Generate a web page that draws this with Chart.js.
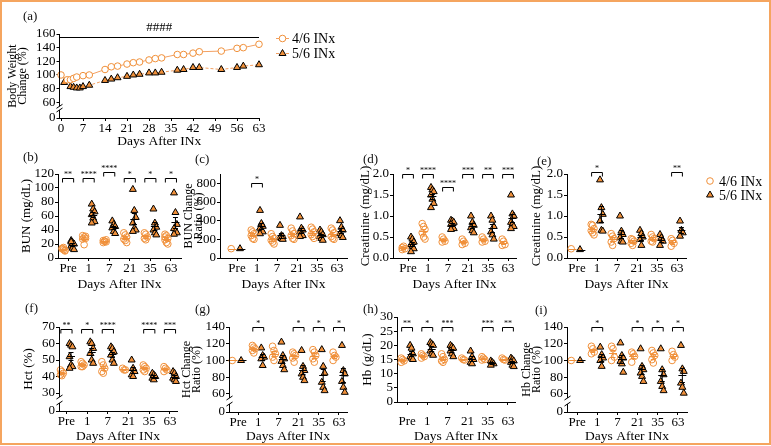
<!DOCTYPE html>
<html>
<head>
<meta charset="utf-8">
<script src="https://cdn.jsdelivr.net/npm/chart.js@4.4.0/dist/chart.umd.min.js"></script>
<style>
body { margin: 0; background: #fff; width: 771px; height: 446px; position: relative; overflow: hidden; font-family: 'Liberation Serif', serif; }
#frame { position: absolute; left: 0; top: 0; width: 771px; height: 445px; box-sizing: border-box; border: 2px solid #f5a55f; }
.lbl { position: absolute; font-size: 13px; line-height: 16px; color: #111; }
canvas { position: absolute; }
</style>
</head>
<body>
<div id="frame"></div>
<script>
// ---- data ----
const groups = ['4/6 INx', '5/6 INx'];
const cats = ['Pre', '1', '7', '21', '35', '63'];

// (a) body weight change (%)
const bwDays46 = [0, 2, 3, 4, 5, 7, 9, 14, 16, 18, 21, 23, 25, 28, 30, 32, 37, 39, 42, 44, 51, 56, 58, 63];
const bw46 = [100, 93, 93, 95, 97, 99, 100, 108, 112, 113, 116, 118, 119, 122, 124, 125, 130, 130, 132, 134, 135, 139, 140, 145];
const bwDays56 = [1, 3, 4, 5, 6, 7, 9, 14, 16, 18, 21, 23, 25, 28, 30, 32, 37, 39, 42, 44, 51, 56, 58, 63];
const bw56 = [89, 83, 82, 81, 81, 83, 85, 92, 94, 96, 98, 100, 101, 103, 103, 104, 107, 108, 111, 111, 108, 111, 113, 115];
const bwDayTicks = [0, 7, 14, 21, 28, 35, 42, 49, 56, 63];
const bwTicks = [0, 60, 80, 100, 120, 140, 160];

// (b) BUN
const bun46 = [[14, 12, 10, 13, 15, 11], [32, 30, 28, 27, 19, 31], [25, 24, 23, 22, 24, 26], [36, 33, 30, 27, 25, 22], [36, 34, 30, 28, 26], [34, 32, 28, 26, 22, 20, 30]];
const bun56 = [[25, 22, 20, 17, 14, 12, 23], [77, 70, 66, 62, 57, 52, 50], [53, 48, 45, 43, 38, 35], [98, 68, 58, 50, 42, 40, 38], [70, 50, 44, 40, 36, 33], [93, 65, 48, 42, 38, 36, 34]];
const bunStars = ['**', '****', '****', '*', '*', '*'];
const bunLevels = [114, 114, 123, 114, 114, 114];
const bunTicks = [0, 20, 40, 60, 80, 100, 120];

// (c) BUN change ratio
const bunR46 = [[100], [300, 280, 260, 240, 210, 200], [260, 230, 210, 190, 170, 150], [320, 290, 260, 240, 210, 200], [330, 310, 280, 250, 230, 210], [320, 300, 270, 230, 210, 200]];
const bunR56 = [[100], [510, 370, 340, 320, 300, 280, 260], [350, 240, 230, 220, 210, 200], [440, 320, 300, 280, 260, 240, 230], [300, 280, 250, 230, 210, 190], [400, 330, 300, 260, 240, 220]];
const bunRStars = ['', '*', '', '', '', ''];
const bunRLevels = [null, 800, null, null, null, null];
const bunRTicks = [0, 200, 400, 600, 800];

// (d) creatinine
const cre46 = [[0.25, 0.28, 0.22, 0.2], [0.82, 0.75, 0.68, 0.6, 0.5, 0.45], [0.5, 0.45, 0.4, 0.38], [0.45, 0.4, 0.35, 0.32], [0.5, 0.45, 0.4, 0.38], [0.45, 0.4, 0.32, 0.3]];
const cre56 = [[0.5, 0.45, 0.38, 0.32, 0.28, 0.22, 0.15], [1.68, 1.62, 1.58, 1.5, 1.4, 1.3, 1.2], [0.9, 0.88, 0.85, 0.8, 0.75, 0.7, 0.68], [1.0, 0.85, 0.78, 0.72, 0.65, 0.6], [1.0, 0.9, 0.75, 0.62, 0.55, 0.45], [1.5, 1.05, 1.0, 0.85, 0.8, 0.75, 0.7]];
const creStars = ['*', '****', '****', '***', '**', '***'];
const creLevels = [2, 2, 1.7, 2, 2, 2];
const creTicks = [0, 0.5, 1, 1.5, 2];

// (e) creatinine, second set
const creB46 = [[0.22], [0.8, 0.78, 0.7, 0.65, 0.6, 0.55], [0.58, 0.52, 0.46, 0.38, 0.3], [0.46, 0.44, 0.4, 0.35, 0.3], [0.56, 0.5, 0.46, 0.4, 0.38], [0.46, 0.42, 0.35, 0.28]];
const creB56 = [[0.2], [1.86, 1.2, 1.04, 0.88, 0.66, 0.64], [1.0, 0.64, 0.56, 0.48, 0.4, 0.38], [0.66, 0.58, 0.5, 0.44, 0.3], [0.56, 0.48, 0.4, 0.3], [0.88, 0.66, 0.6, 0.52]];
const creBStars = ['', '*', '', '', '', '**'];
const creBLevels = [null, 2.05, null, null, null, 2.05];

// (f) Hct
const hct46 = [[44, 43, 42, 41, 40.5], [49, 48, 47, 46, 46], [49, 47, 45, 43, 42], [45, 44, 44], [47, 46, 45, 44, 43], [46, 45, 44, 43]];
const hct56 = [[60, 59, 58, 52, 47, 46, 45], [61, 60, 57, 54, 50, 48], [58, 57, 55, 53, 50, 48], [50, 45, 43, 41, 40], [42, 41, 40, 39, 38], [43, 42, 40, 39, 38, 37]];
const hctStars = ['**', '*', '****', '', '****', '***'];
const hctLevels = [69, 69, 69, null, 69, 69];
const hctTicks = [0, 30, 40, 50, 60, 70];

// (g) Hct change ratio
const hctR46 = [[100], [118, 116, 114, 112, 109], [117, 112, 108, 104, 100], [110, 108, 106, 103, 98], [113, 110, 106, 102, 98], [110, 106, 104, 100]];
const hctR56 = [[100], [115, 106, 104, 102, 94], [122, 106, 102, 99, 94, 89], [112, 93, 88, 84, 80, 76], [113, 93, 85, 74, 68, 64], [118, 88, 84, 75, 68, 62]];
const hctRStars = ['', '*', '', '*', '*', '*'];
const hctRLevels = [null, 140, null, 140, 140, 140];
const ratioTicks = [0, 60, 80, 100, 120, 140];

// (h) Hb
const hb46 = [[15.5, 15, 14.5, 14], [17, 16.5, 16, 15.5], [17, 16, 15, 14.5, 14], [15.5, 15, 14.8], [16, 15.5, 15, 14.8], [15.5, 15, 14.8]];
const hb56 = [[20, 19, 17, 16, 15.5, 15], [21, 20.5, 20, 18, 17, 16.5], [20, 19.5, 19, 18, 17, 16], [18, 16, 15, 14, 13.5], [14.5, 14, 13.5, 13], [15.5, 15, 14.5, 14, 13, 12.5]];
const hbStars = ['**', '*', '***', '', '***', '**'];
const hbLevels = [26.5, 26.5, 26.5, null, 26.5, 26.5];
const hbTicks = [0, 5, 10, 15, 20, 25, 30];

// (i) Hb change ratio
const hbR46 = [[100], [117, 114, 110, 108], [117, 114, 104, 100], [110, 108, 105, 98], [112, 109, 106, 101, 97], [111, 107, 104, 100]];
const hbR56 = [[100], [116, 107, 103, 100, 93], [121, 106, 103, 99, 96, 86], [114, 93, 89, 85, 81, 75], [114, 89, 83, 75, 69, 64], [118, 90, 87, 73, 68, 61]];
const hbRStars = ['', '*', '', '*', '*', '*'];
const hbRLevels = [null, 140, null, 140, 140, 140];

// ---- styling ----
const INK = '#000';
const ORANGE = '#f0903a';
const LINE_ORANGE = '#f3a062';
const SERIF = "'Liberation Serif', 'Times New Roman', serif";
Chart.defaults.font.family = SERIF;
Chart.defaults.color = INK;

const GROUP_OFFSET = [-0.22, 0.22];
const TWO_LINE_SIZE = 12;
const TWO_LINE_LH = 0.9;

function jitter(j) {
    return ((j % 3) - 1) * 0.07;
}

function groupPoints(rows, offset) {
    const pts = [];
    rows.forEach((vals, i) => {
        vals.forEach((v, j) => pts.push({ x: i + offset + jitter(j), y: v }));
    });
    return pts;
}

function meanSem(vals) {
    const n = vals.length;
    const m = vals.reduce((a, b) => a + b, 0) / n;
    if (n < 2) return { m, sem: 0 };
    const sd = Math.sqrt(vals.reduce((a, v) => a + (v - m) * (v - m), 0) / (n - 1));
    return { m, sem: sd / Math.sqrt(n) };
}

function drawTri(ctx, x, y, r) {
    ctx.beginPath();
    ctx.moveTo(x, y - r);
    ctx.lineTo(x + r * 0.866, y + r * 0.5);
    ctx.lineTo(x - r * 0.866, y + r * 0.5);
    ctx.closePath();
    ctx.fillStyle = ORANGE;
    ctx.fill();
    ctx.strokeStyle = INK;
    ctx.lineWidth = 1;
    ctx.stroke();
}

function drawCircle(ctx, x, y, r) {
    ctx.beginPath();
    ctx.arc(x, y, r, 0, Math.PI * 2);
    ctx.strokeStyle = ORANGE;
    ctx.lineWidth = 1;
    ctx.stroke();
}

// axis with a break between zero and the first real tick
function drawBreakAxis(chart, p) {
    const ctx = chart.ctx;
    const area = chart.chartArea;
    const x = Math.floor(area.left) + 0.5;
    const yb = chart.scales.y.getPixelForValue(p.yTicks[1]);
    ctx.save();
    ctx.strokeStyle = INK;
    ctx.lineWidth = 1;
    ctx.beginPath();
    ctx.moveTo(x, area.top);
    ctx.lineTo(x, yb + 4);
    ctx.moveTo(x - 3, yb + 6);
    ctx.lineTo(x + 3, yb + 2);
    ctx.moveTo(x - 3, area.bottom - 6);
    ctx.lineTo(x + 3, area.bottom - 10);
    ctx.moveTo(x, area.bottom - 8);
    ctx.lineTo(x, area.bottom);
    ctx.stroke();
    ctx.restore();
}

function makeChart(p, datasets, plugins) {
    const twoLine = p.yTitle.length > 1;
    const lh = twoLine ? TWO_LINE_SIZE * TWO_LINE_LH : 13 * 1.2;
    const cLeft = Math.floor(p.titleX - lh / 2);
    const padTop = p.padTop || 14;
    const padRight = p.padRight || 10;
    const cTop = Math.floor(p.top - padTop);
    const w = Math.ceil(p.right + padRight - cLeft);
    const h = Math.ceil(p.titleY + 8.1 - cTop);
    const yW = p.axisX - cLeft;
    const xH = h - (p.axisY - cTop);
    const yPos = v => (v === 0 && p.breakMin != null) ? p.breakMin : v;

    const cv = document.createElement('canvas');
    cv.width = w;
    cv.height = h;
    cv.style.left = cLeft + 'px';
    cv.style.top = cTop + 'px';
    document.body.appendChild(cv);

    const lbl = document.createElement('div');
    lbl.className = 'lbl';
    lbl.textContent = p.name;
    lbl.style.left = p.lx + 'px';
    lbl.style.top = (p.ly - 8) + 'px';
    document.body.appendChild(lbl);

    return new Chart(cv, {
        type: 'scatter',
        data: { datasets: datasets },
        options: {
            responsive: false,
            animation: false,
            devicePixelRatio: 1,
            layout: { padding: { top: p.top - cTop, right: w - (p.right - cLeft), left: 0, bottom: 0 } },
            plugins: { legend: { display: false }, tooltip: { enabled: false } },
            scales: {
                x: {
                    type: 'linear',
                    min: p.xMin,
                    max: p.xMax,
                    grid: { display: true, drawOnChartArea: false, drawTicks: true, tickLength: 3, color: INK },
                    border: { display: true, color: INK, width: 1 },
                    ticks: {
                        color: INK, font: { size: 13 }, padding: p.xPad || 0, autoSkip: false, maxRotation: 0,
                        callback: v => p.xLabel(v)
                    },
                    afterBuildTicks: s => { s.ticks = p.xTicks.map(v => ({ value: v })); },
                    afterFit: s => { s.height = xH; },
                    title: { display: true, text: 'Days After INx', color: INK, font: { size: 13.5 }, padding: 0 }
                },
                y: {
                    type: 'linear',
                    min: p.breakMin != null ? p.breakMin : p.yTicks[0],
                    max: p.yMax,
                    grid: { display: true, drawOnChartArea: false, drawTicks: true, tickLength: 3, color: INK },
                    border: { display: p.breakMin == null, color: INK, width: 1 },
                    ticks: {
                        color: INK, font: { size: 13 }, padding: 1, autoSkip: false,
                        callback: v => (p.breakMin != null && v === p.breakMin) ? '0' : p.yLabel(v)
                    },
                    afterBuildTicks: s => { s.ticks = p.yTicks.map(v => ({ value: yPos(v) })); },
                    afterFit: s => { s.width = yW; },
                    title: {
                        display: true, text: twoLine ? p.yTitle : p.yTitle[0], color: INK,
                        font: twoLine ? { size: TWO_LINE_SIZE, lineHeight: TWO_LINE_LH } : { size: 13, lineHeight: 1.2 },
                        padding: 0
                    }
                }
            }
        },
        plugins: plugins
    });
}

// ---- (a) body weight ----
const panelA = {
    name: '(a)', lx: 23, ly: 16,
    axisX: 59.5, top: 34, right: 259, axisY: 118, titleX: 13.3, titleY: 141, padTop: 18, padRight: 100,
    xMin: -0.48, xMax: 63, xTicks: bwDayTicks, xLabel: v => String(v),
    yTicks: bwTicks, yMax: 160, breakMin: 37, yLabel: v => String(v),
    yTitle: ['Body Weight', 'Change (%)']
};

const bwExtras = {
    id: 'bwExtras',
    afterDraw(chart) {
        const ctx = chart.ctx;
        const area = chart.chartArea;
        drawBreakAxis(chart, panelA);
        ctx.save();
        // significance line
        const ly = Math.round(chart.scales.y.getPixelForValue(156)) + 0.5;
        ctx.strokeStyle = INK;
        ctx.lineWidth = 1;
        ctx.beginPath();
        ctx.moveTo(area.left, ly);
        ctx.lineTo(area.right, ly);
        ctx.stroke();
        ctx.fillStyle = INK;
        ctx.font = '13px ' + SERIF;
        ctx.textAlign = 'center';
        ctx.textBaseline = 'middle';
        ctx.fillText('####', (area.left + area.right) / 2, area.top - 6);
        // legend
        ctx.font = '14px ' + SERIF;
        ctx.textAlign = 'left';
        const rows = [area.top + 4.5, area.top + 19.5];
        rows.forEach((y, g) => {
            const xs = area.right + 17;
            const xe = area.right + 30;
            ctx.strokeStyle = LINE_ORANGE;
            ctx.setLineDash(g === 1 ? [3, 2] : []);
            ctx.beginPath();
            ctx.moveTo(xs, y);
            ctx.lineTo(xe, y);
            ctx.stroke();
            ctx.setLineDash([]);
            if (g === 0) {
                ctx.beginPath();
                ctx.arc(area.right + 23.5, y, 3.3, 0, Math.PI * 2);
                ctx.fillStyle = '#fff';
                ctx.fill();
                drawCircle(ctx, area.right + 23.5, y, 3.3);
            } else {
                drawTri(ctx, area.right + 23.5, y, 4);
            }
            ctx.fillStyle = INK;
            ctx.fillText(chart.data.datasets[g].label, area.right + 33, y + 1);
        });
        ctx.restore();
    }
};

makeChart(panelA, [
    {
        label: groups[0],
        data: bwDays46.map((d, i) => ({ x: d, y: bw46[i] })),
        showLine: true, borderColor: LINE_ORANGE, borderWidth: 1,
        pointStyle: 'circle', pointRadius: 3.3, pointBorderColor: ORANGE, pointBackgroundColor: '#fff', pointBorderWidth: 1,
        clip: false
    },
    {
        label: groups[1],
        data: bwDays56.map((d, i) => ({ x: d, y: bw56[i] })),
        showLine: true, borderColor: LINE_ORANGE, borderWidth: 1, borderDash: [3, 2],
        pointStyle: 'triangle', pointRadius: 4, pointBorderColor: INK, pointBackgroundColor: ORANGE, pointBorderWidth: 1,
        clip: false
    }
], [bwExtras]);

// ---- grouped scatter panels ----
const fmt1 = v => v.toFixed(1);
const fmt0 = v => String(v);

const panels = [
    { name: '(b)', lx: 23, ly: 157, rows: [bun46, bun56], stars: bunStars, levels: bunLevels,
      yTicks: bunTicks, yMax: 120, yLabel: fmt0, yTitle: ['BUN (mg/dL)'],
      axisX: 58, top: 174, right: 181, axisY: 258, titleX: 27, titleY: 284, xMin: -0.49, xMax: 5.49 },
    { name: '(c)', lx: 195, ly: 159, rows: [bunR46, bunR56], stars: bunRStars, levels: bunRLevels,
      yTicks: bunRTicks, yMax: 900, yLabel: fmt0, yTitle: ['BUN Change', 'Ratio (%)'],
      axisX: 220, top: 174, right: 347, axisY: 258, titleX: 189, titleY: 284, xMin: -0.85, xMax: 5.5 },
    { name: '(d)', lx: 363, ly: 159, rows: [cre46, cre56], stars: creStars, levels: creLevels,
      yTicks: creTicks, yMax: 2, yLabel: fmt1, yTitle: ['Creatinine (mg/dL)'],
      axisX: 393, top: 174, right: 516, axisY: 258, titleX: 366, titleY: 284, xMin: -0.75, xMax: 5.4 },
    { name: '(e)', lx: 537, ly: 161, rows: [creB46, creB56], stars: creBStars, levels: creBLevels,
      yTicks: creTicks, yMax: 2, yLabel: fmt1, yTitle: ['Creatinine (mg/dL)'], legend: true, padRight: 84,
      axisX: 567, top: 174, right: 686, axisY: 258, titleX: 537, titleY: 284, xMin: -0.5, xMax: 5.45 },
    { name: '(f)', lx: 25, ly: 308, rows: [hct46, hct56], stars: hctStars, levels: hctLevels,
      yTicks: hctTicks, yMax: 70, breakMin: 19.1, yLabel: fmt0, yTitle: ['Hct (%)'],
      axisX: 59, top: 327, right: 177, axisY: 411, titleX: 29, titleY: 436, xMin: -0.36, xMax: 5.34 },
    { name: '(g)', lx: 195, ly: 309, rows: [hctR46, hctR56], stars: hctRStars, levels: hctRLevels,
      yTicks: ratioTicks, yMax: 140, breakMin: 38.5, yLabel: fmt0, yTitle: ['Hct Change', 'Ratio (%)'],
      axisX: 229, top: 327, right: 347, axisY: 412, titleX: 187, titleY: 436, xMin: -0.45, xMax: 5.4 },
    { name: '(h)', lx: 363, ly: 309, rows: [hb46, hb56], stars: hbStars, levels: hbLevels,
      yTicks: hbTicks, yMax: 30, yLabel: fmt0, yTitle: ['Hb (g/dL)'], xPad: 9,
      axisX: 397, top: 317, right: 515, axisY: 402, titleX: 368, titleY: 436, xMin: -0.5, xMax: 5.35 },
    { name: '(i)', lx: 535, ly: 310, rows: [hbR46, hbR56], stars: hbRStars, levels: hbRLevels,
      yTicks: ratioTicks, yMax: 140, breakMin: 38.5, yLabel: fmt0, yTitle: ['Hb Change', 'Ratio (%)'],
      axisX: 567, top: 327, right: 687, axisY: 412, titleX: 527, titleY: 436, xMin: -0.5, xMax: 5.45 }
];

panels.forEach(p => {
    p.xTicks = cats.map((c, i) => i);
    p.xLabel = v => cats[v];

    const extras = {
        id: 'groupExtras',
        afterDatasetsDraw(chart) {
            const ctx = chart.ctx;
            const xs = chart.scales.x;
            const ys = chart.scales.y;
            ctx.save();
            ctx.lineWidth = 1;
            p.rows.forEach((rows, g) => {
                ctx.strokeStyle = g === 0 ? ORANGE : INK;
                rows.forEach((vals, i) => {
                    const { m, sem } = meanSem(vals);
                    const cx = xs.getPixelForValue(i + GROUP_OFFSET[g]);
                    const ym = Math.round(ys.getPixelForValue(m)) + 0.5;
                    const yt = Math.round(ys.getPixelForValue(m + sem)) + 0.5;
                    const yb = Math.round(ys.getPixelForValue(m - sem)) + 0.5;
                    ctx.beginPath();
                    ctx.moveTo(cx - 4, ym); ctx.lineTo(cx + 4, ym);
                    if (sem > 0) {
                        ctx.moveTo(cx, yt); ctx.lineTo(cx, yb);
                        ctx.moveTo(cx - 2.5, yt); ctx.lineTo(cx + 2.5, yt);
                        ctx.moveTo(cx - 2.5, yb); ctx.lineTo(cx + 2.5, yb);
                    }
                    ctx.stroke();
                });
            });
            ctx.restore();
        },
        afterDraw(chart) {
            const ctx = chart.ctx;
            const xs = chart.scales.x;
            const ys = chart.scales.y;
            const area = chart.chartArea;
            if (p.breakMin != null) drawBreakAxis(chart, p);
            ctx.save();
            ctx.strokeStyle = INK;
            ctx.fillStyle = INK;
            ctx.lineWidth = 1;
            p.stars.forEach((s, i) => {
                if (!s) return;
                const y = Math.round(ys.getPixelForValue(p.levels[i])) + 0.5;
                const x1 = xs.getPixelForValue(i - 0.27);
                const x2 = xs.getPixelForValue(i + 0.27);
                ctx.beginPath();
                ctx.moveTo(x1, y + 4); ctx.lineTo(x1, y); ctx.lineTo(x2, y); ctx.lineTo(x2, y + 4);
                ctx.stroke();
                ctx.font = '8px ' + SERIF;
                ctx.textAlign = 'center';
                ctx.textBaseline = 'alphabetic';
                ctx.fillText(s, (x1 + x2) / 2, y - 2);
            });
            if (p.legend) {
                ctx.font = '14px ' + SERIF;
                ctx.textAlign = 'left';
                ctx.textBaseline = 'middle';
                const rows = [area.top + 7, area.top + 21];
                drawCircle(ctx, area.right + 24, rows[0], 3.3);
                drawTri(ctx, area.right + 24, rows[1], 4);
                ctx.fillStyle = INK;
                rows.forEach((y, g) => ctx.fillText(chart.data.datasets[g].label, area.right + 33, y + 1));
            }
            ctx.restore();
        }
    };

    makeChart(p, [
        {
            label: groups[0],
            data: groupPoints(p.rows[0], GROUP_OFFSET[0]),
            pointStyle: 'circle', pointRadius: 3.3, pointBorderColor: ORANGE,
            pointBackgroundColor: 'rgba(255,255,255,0)', pointBorderWidth: 1, clip: false
        },
        {
            label: groups[1],
            data: groupPoints(p.rows[1], GROUP_OFFSET[1]),
            pointStyle: 'triangle', pointRadius: 4, pointBorderColor: INK,
            pointBackgroundColor: ORANGE, pointBorderWidth: 1, clip: false
        }
    ], [extras]);
});
</script>
</body>
</html>
